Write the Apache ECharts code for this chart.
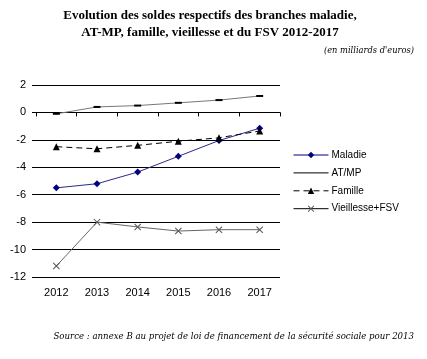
<!DOCTYPE html>
<html><head><meta charset="utf-8">
<script src="https://cdn.jsdelivr.net/npm/echarts@6/dist/echarts.min.js"></script>
<style>html,body{margin:0;padding:0;background:#fff}#c{width:427px;height:359px}</style>
</head><body><div id="c"></div>
<script>
const years = ['2012','2013','2014','2015','2016','2017'];
const maladie = [-5.5, -5.2, -4.35, -3.2, -2.05, -1.15];
const atmp = [-0.1, 0.4, 0.5, 0.7, 0.9, 1.2];
const famille = [-2.5, -2.65, -2.4, -2.1, -1.85, -1.35];
const vieillesse = [-11.2, -8.0, -8.35, -8.65, -8.55, -8.55];
const yTicks = {min: -12, max: 2, interval: 2};

const xPath = 'path://M0,1L1,0L5,4L9,0L10,1L6,5L10,9L9,10L5,6L1,10L0,9L4,5Z';
const chart = echarts.init(document.getElementById('c'));
chart.setOption({
  animation: false,
  backgroundColor: '#fff',
  title: [
    {text: 'Evolution des soldes respectifs des branches maladie,\nAT-MP, famille, vieillesse et du FSV 2012-2017', left: 205, textAlign: 'center', top: 2,
     textStyle: {fontFamily: 'Liberation Serif', fontWeight: 'bold', fontSize: 13, lineHeight: 17, color: '#000'}},
    {text: "(en milliards d'euros)", right: 8, top: 42,
     textStyle: {fontFamily: 'DejaVu Serif', fontStyle: 'italic', fontWeight: 'normal', fontSize: 8.3, color: '#000'}},
    {text: 'Source : annexe B au projet de loi de financement de la sécurité sociale pour 2013', right: 8, top: 327,
     textStyle: {fontFamily: 'DejaVu Serif', fontStyle: 'italic', fontWeight: 'normal', fontSize: 8.6, color: '#000'}}
  ],
  legend: {
    orient: 'vertical', left: 293, top: 150, itemWidth: 35, itemHeight: 8, itemGap: 7.9, padding: 0,
    textStyle: {fontFamily: 'Liberation Sans', fontSize: 10, color: '#000', padding: [0,0,0,-2]},
    data: [
      {name: 'Maladie', lineStyle: {color: '#000080', width: 1}},
      {name: 'AT/MP', itemStyle: {opacity: 0}, lineStyle: {color: '#000', width: 1}},
      {name: 'Famille', lineStyle: {width: 1}},
      {name: 'Vieillesse+FSV', lineStyle: {color: '#000', width: 1}}
    ]
  },
  grid: {left: 36, right: 147, top: 85, bottom: 82},
  xAxis: [
    {type: 'category', data: years, position: 'bottom', axisLine: {show: false}, axisTick: {show: false},
     axisLabel: {fontFamily: 'Liberation Sans', fontSize: 11, color: '#000', margin: 10}},
    {type: 'category', data: years, position: 'bottom',
     axisLine: {onZero: true, onZeroAxisIndex: 0, lineStyle: {color: '#000', width: 1}},
     axisTick: {show: true, length: 4, lineStyle: {color: '#000'}}, axisLabel: {show: false}}
  ],
  yAxis: {
    type: 'value', min: yTicks.min, max: yTicks.max, interval: yTicks.interval,
    axisLine: {show: false}, axisTick: {show: true, length: 4, lineStyle: {color: '#000'}},
    splitLine: {lineStyle: {color: '#000', width: 1}},
    axisLabel: {fontFamily: 'Liberation Sans', fontSize: 11, color: '#000', margin: 10}
  },
  series: [
    {name: 'Maladie', type: 'line', data: maladie, symbol: 'diamond', symbolSize: 7,
     itemStyle: {color: '#000080'}, lineStyle: {color: '#2a2a8a', width: 1}},
    {name: 'AT/MP', type: 'line', data: atmp, symbol: 'rect', symbolSize: [7, 2],
     itemStyle: {color: '#000'}, lineStyle: {color: '#777', width: 1}},
    {name: 'Famille', type: 'line', data: famille, symbol: 'triangle', symbolSize: 7,
     itemStyle: {color: '#000'}, lineStyle: {color: '#000', width: 1, type: [6, 4]}},
    {name: 'Vieillesse+FSV', type: 'line', data: vieillesse, symbol: xPath, symbolSize: 7,
     itemStyle: {color: '#555'}, lineStyle: {color: '#666', width: 1}}
  ]
});
</script></body></html>
